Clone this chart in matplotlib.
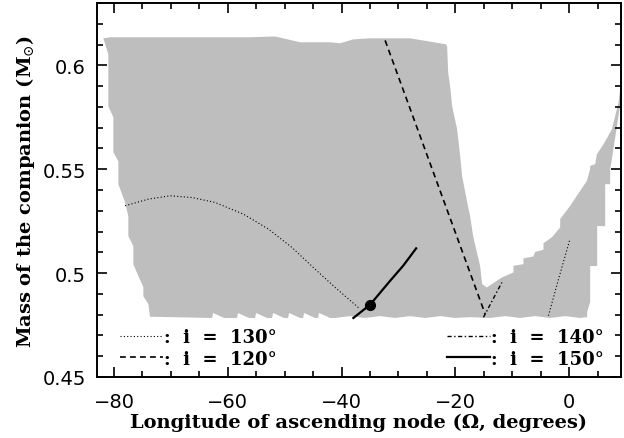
import matplotlib
matplotlib.use("Agg")
import matplotlib.pyplot as plt
from matplotlib.ticker import MultipleLocator

# Allowed (Omega, M_c) region, traced as one closed outline
region_omega = [
    -81.93, -80.70, -56.09, -51.69, -47.30, -42.02, -40.26, -37.98, -34.99, -27.96, -21.63,
    -21.45, -21.27, -20.92, -20.57, -19.69, -19.16, -18.81, -17.93, -17.41, -16.88, -15.65, -15.30,
    -14.47, -11.83, -9.79, -9.79, -8.04, -8.04, -6.28, -5.98, -4.52, -4.52, -3.04, -1.58, -1.58,
    0.18, 1.35, 3.11, 3.69, 3.69, 4.57, 4.87, 6.03, 7.51, 8.67, 9.27, 10.0,
    10.0, 9.55, 8.67, 7.68, 7.21, 7.21, 6.33, 6.33, 4.92, 4.92, 3.69, 3.69, 3.16, 3.16,
    1.93, -0.70, -3.34, -5.98, -8.62, -11.25, -13.89, -17.41, -20.04, -22.68, -25.32, -27.96,
    -30.59, -33.23, -35.87, -38.51, -41.14,
    -42.02, -43.96, -44.13, -44.66, -46.59, -46.77, -47.30, -49.23, -49.41, -50.11, -52.04, -52.22,
    -53.10, -55.03, -55.21, -56.26, -58.20, -58.38, -60.66, -62.59, -62.77, -73.69,
    -73.97, -74.85, -74.85, -75.73, -76.61, -76.61, -77.49, -77.49, -78.07, -79.24, -79.24,
    -80.12, -80.12, -81.00, -81.00, -81.88,
]
region_mass = [
    0.6130, 0.6135, 0.6135, 0.6139, 0.6111, 0.6111, 0.6106, 0.6125, 0.6130, 0.6130, 0.6101,
    0.6091, 0.5966, 0.5899, 0.5803, 0.5692, 0.5563, 0.5466, 0.5341, 0.5274, 0.5178, 0.5034, 0.4947,
    0.4931, 0.4979, 0.5003, 0.5035, 0.5043, 0.5071, 0.5080, 0.5102, 0.5112, 0.5144, 0.5172, 0.5220, 0.5260,
    0.5324, 0.5372, 0.5444, 0.5500, 0.5516, 0.5524, 0.5572, 0.5620, 0.5692, 0.5821, 0.5949, 0.6000,
    0.5900, 0.5917, 0.5756, 0.5580, 0.5500, 0.5428, 0.5428, 0.5226, 0.5226, 0.5034, 0.5034, 0.4861, 0.4813, 0.4788,
    0.4784, 0.4793, 0.4784, 0.4793, 0.4784, 0.4793, 0.4784, 0.4788, 0.4784, 0.4793, 0.4784, 0.4793,
    0.4784, 0.4793, 0.4784, 0.4793, 0.4784,
    0.4784, 0.4808, 0.4784, 0.4784, 0.4808, 0.4784, 0.4784, 0.4808, 0.4784, 0.4784, 0.4808, 0.4784,
    0.4784, 0.4808, 0.4784, 0.4784, 0.4808, 0.4784, 0.4784, 0.4808, 0.4784, 0.4790,
    0.4851, 0.4889, 0.4933, 0.4986, 0.5043, 0.5130, 0.5178, 0.5274, 0.5341, 0.5428, 0.5538,
    0.5582, 0.5750, 0.5803, 0.6053, 0.6130,
]

# Constraint curves for fixed inclinations
omega_i130a = [-78.07, -73.97, -70.15, -66.34, -62.24, -57.27, -52.87, -48.76, -44.66, -41.14, -36.75]
mass_i130a = [0.5324, 0.5356, 0.5372, 0.5364, 0.5340, 0.5284, 0.5212, 0.5124, 0.5019, 0.4931, 0.4827]
omega_i130b = [-3.64, -1.87, 0.06]
mass_i130b = [0.4795, 0.4971, 0.5156]

omega_i120 = [-32.35, -14.77]
mass_i120 = [0.6120, 0.4803]

omega_i140 = [-15.07, -11.83]
mass_i140 = [0.4787, 0.4955]

omega_i150 = [-37.93, -34.99, -31.47, -29.13, -26.90]
mass_i150 = [0.4784, 0.4848, 0.4963, 0.5037, 0.5119]

# Best-fit solution
best_omega = [-35.0]
best_mass = [0.4848]

legend_labels = [":  i  =  130\u00b0", ":  i  =  120\u00b0",
                 ":  i  =  140\u00b0", ":  i  =  150\u00b0"]

serif = ["DejaVu Serif"]
plt.rcParams["mathtext.fontset"] = "dejavuserif"

fig = plt.figure(figsize=(6.24, 4.39), dpi=100)
ax = fig.add_axes([0.1554, 0.139, 0.8397, 0.8519])

ax.fill(region_omega, region_mass, color="#bebebe", lw=0, zorder=1)

l130, = ax.plot(omega_i130a, mass_i130a, color="black", lw=0.8,
                linestyle=(0, (1, 2)), zorder=3)
ax.plot(omega_i130b, mass_i130b, color="black", lw=0.8,
        linestyle=(0, (1, 2)), zorder=3)
l120, = ax.plot(omega_i120, mass_i120, color="black", lw=1.2,
                linestyle=(0, (3.5, 2.5)), zorder=3)
l140, = ax.plot(omega_i140, mass_i140, color="black", lw=1.0,
                linestyle=(0, (3, 1.8, 1, 1.8)), zorder=3)
l150, = ax.plot(omega_i150, mass_i150, color="black", lw=1.6, zorder=3)
ax.plot(best_omega, best_mass, "o", color="black", ms=7, zorder=4)

ax.set_xlim(-83, 9.1)
ax.set_ylim(0.45, 0.63)
ax.xaxis.set_major_locator(MultipleLocator(20))
ax.xaxis.set_minor_locator(MultipleLocator(5))
ax.yaxis.set_major_locator(MultipleLocator(0.05))
ax.yaxis.set_minor_locator(MultipleLocator(0.01))
ax.yaxis.set_major_formatter(plt.FuncFormatter(lambda v, p: f"{v:g}"))
ax.tick_params(which="both", direction="in", top=True, right=True, width=1.2,
               labelsize=14)
ax.tick_params(axis="x", which="both", pad=11)
ax.tick_params(axis="y", which="both", pad=8)
ax.tick_params(which="major", length=7)
ax.tick_params(which="minor", length=4)
for s in ax.spines.values():
    s.set_linewidth(1.4)

ax.set_xlabel("Longitude of ascending node (\u03a9, degrees)", family=serif,
              fontsize=14, fontweight="bold", labelpad=1)
ax.set_ylabel("Mass of the companion (M$_{\\odot}$)", family=serif,
              fontsize=14, fontweight="bold", labelpad=4)

leg_font = {"family": serif, "size": 13, "weight": "bold"}
leg1 = ax.legend([l130, l120], legend_labels[:2],
                 loc="lower left", bbox_to_anchor=(0.044, 0.025), frameon=False,
                 prop=leg_font, handlelength=2.4, handletextpad=0.05,
                 labelspacing=0.2, borderpad=0, borderaxespad=0)
ax.add_artist(leg1)
ax.legend([l140, l150], legend_labels[2:],
          loc="lower right", bbox_to_anchor=(0.968, 0.025), frameon=False,
          prop=leg_font, handlelength=2.4, handletextpad=0.05,
          labelspacing=0.2, borderpad=0, borderaxespad=0)

fig.savefig("out.png", dpi=100)
